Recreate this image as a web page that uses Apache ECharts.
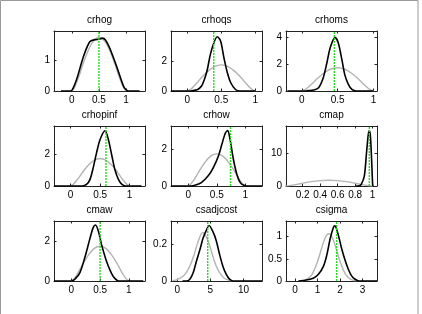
<!DOCTYPE html>
<html><head><meta charset="utf-8">
<script src="https://cdn.jsdelivr.net/npm/echarts@6/dist/echarts.min.js"></script>
<style>html,body{margin:0;padding:0;background:#fff}#c{width:422px;height:314px}</style>
</head><body><div id="c"></div>
<script>
// ---- data ----
const titles = ['crhog','crhoqs','crhoms','crhopinf','crhow','cmap','cmaw','csadjcost','csigma'];
const xMins = [-0.33, -0.24, -0.22, -0.28, -0.30, 0.01, -0.30, -0.95, -0.40];
const xMaxs = [1.35, 1.10, 1.05, 1.26, 1.29, 1.05, 1.28, 12.8, 3.64];
const yMaxs = [1.95, 4.0, 4.5, 3.8, 3.25, 18.2, 3.0, 0.33, 1.35];
const xTicks = [[0,0.5,1],[0,0.5,1],[0,0.5,1],[0,0.5,1],[0,0.5,1],[0.2,0.4,0.6,0.8,1],[0,0.5,1],[0,5,10],[0,1,2,3]];
const yTicks = [[0,1],[0,2],[0,2,4],[0,2],[0,2],[0,10],[0,2],[0,0.2],[0,0.5,1]];
const modes = [0.5, 0.39, 0.455, 0.6, 0.74, 0.962, 0.5, 4.6, 1.85];

// prior of the rho-type parameters (gray)
const rhoPriorX = [0, 0.05, 0.1, 0.15, 0.2, 0.3, 0.4, 0.5, 0.6, 0.7, 0.8, 0.85, 0.9, 0.95, 1];
const rhoPriorY = [0, 0.12, 0.33, 0.58, 0.85, 1.31, 1.63, 1.74, 1.63, 1.31, 0.85, 0.58, 0.33, 0.12, 0];
const csadjcostPriorX = [-0.7, 0.0, 1.0, 1.5, 2.0, 2.5, 3.0, 3.5, 3.8, 4.1, 4.6, 5.1, 5.6, 6.1, 6.6, 7.1, 7.8, 8.3];
const csadjcostPriorY = [0.002, 0.007, 0.03, 0.055, 0.09, 0.14, 0.2, 0.25, 0.266, 0.26, 0.225, 0.17, 0.11, 0.065, 0.035, 0.015, 0.004, 0.001];
const csigmaPriorX = [0.25, 0.5, 0.75, 1.0, 1.25, 1.4, 1.5, 1.6, 1.75, 2.0, 2.25, 2.5, 2.75];
const csigmaPriorY = [0.004, 0.03, 0.144, 0.437, 0.852, 1.03, 1.064, 1.03, 0.852, 0.437, 0.144, 0.03, 0.004];

// posteriors (black)
const crhogX = [-0.2, -0.05, 0, 0.09, 0.21, 0.33, 0.43, 0.5, 0.56, 0.62, 0.7, 0.83, 0.95, 1.0, 1.05, 1.25];
const crhogY = [0, 0, 0.02, 0.39, 1.1, 1.6, 1.67, 1.68, 1.72, 1.66, 1.39, 0.78, 0.17, 0.04, 0, 0];
const crhoqsX = [-0.24, 0.05, 0.11, 0.16, 0.21, 0.25, 0.29, 0.34, 0.39, 0.44, 0.49, 0.54, 0.59, 0.64, 0.71, 0.77, 1.0];
const crhoqsY = [0, 0, 0.05, 0.12, 0.33, 0.75, 1.33, 2.44, 3.2, 3.62, 3.33, 2.2, 1.22, 0.55, 0.1, 0, 0];
const crhomsX = [-0.2, 0.05, 0.09, 0.17, 0.235, 0.30, 0.35, 0.40, 0.465, 0.51, 0.56, 0.60, 0.65, 0.70, 0.76, 1.0];
const crhomsY = [0, 0, 0.03, 0.08, 0.25, 1.0, 2.1, 3.3, 4.0, 3.6, 2.35, 1.23, 0.5, 0.12, 0, 0];
const crhopinfX = [-0.28, 0.2, 0.27, 0.33, 0.39, 0.44, 0.5, 0.585, 0.64, 0.70, 0.75, 0.81, 0.87, 0.93, 1.2];
const crhopinfY = [0, 0, 0.1, 0.42, 1.26, 2.1, 2.95, 3.5, 2.95, 1.9, 1.05, 0.42, 0.1, 0, 0];
const crhowX = [-0.3, 0.05, 0.12, 0.23, 0.35, 0.44, 0.53, 0.59, 0.65, 0.69, 0.73, 0.79, 0.85, 0.91, 0.97, 1.03, 1.29];
const crhowY = [0, 0, 0.04, 0.18, 0.55, 1.0, 1.64, 2.27, 2.87, 3.0, 2.55, 1.45, 0.64, 0.18, 0.04, 0, 0];
const cmapX = [0.81, 0.85, 0.87, 0.905, 0.93, 0.95, 0.963, 0.975, 0.99, 1.0, 1.005];
const cmapY = [0, 0.1, 0.5, 3, 10, 15.5, 16.8, 15, 7, 0.5, 0];
const cmawX = [-0.3, 0.0, 0.06, 0.15, 0.235, 0.32, 0.38, 0.42, 0.47, 0.525, 0.61, 0.70, 0.76, 0.82, 1.0, 1.25];
const cmawY = [0, 0, 0.08, 0.42, 1.17, 2.08, 2.67, 2.8, 2.5, 1.83, 1.0, 0.37, 0.12, 0, 0, 0];
const csadjcostX = [0.8, 1.4, 1.9, 2.4, 2.9, 3.4, 3.9, 4.4, 4.8, 5.4, 5.9, 6.4, 6.9, 7.4, 7.9, 8.4, 12.8];
const csadjcostY = [0, 0, 0.01, 0.045, 0.11, 0.17, 0.236, 0.28, 0.305, 0.27, 0.22, 0.145, 0.08, 0.036, 0.01, 0, 0];
const csigmaX = [0.15, 0.37, 0.81, 1.04, 1.26, 1.41, 1.56, 1.70, 1.77, 1.93, 2.07, 2.22, 2.37, 2.52, 2.67, 2.85, 3.64];
const csigmaY = [0, 0.01, 0.06, 0.15, 0.33, 0.58, 0.95, 1.2, 1.24, 1.02, 0.73, 0.47, 0.26, 0.11, 0.04, 0, 0];

const priorXs = [rhoPriorX, rhoPriorX, rhoPriorX, rhoPriorX, rhoPriorX, rhoPriorX, rhoPriorX, csadjcostPriorX, csigmaPriorX];
const priorYs = [rhoPriorY, rhoPriorY, rhoPriorY, rhoPriorY, rhoPriorY, rhoPriorY, rhoPriorY, csadjcostPriorY, csigmaPriorY];
const postXs = [crhogX, crhoqsX, crhomsX, crhopinfX, crhowX, cmapX, cmawX, csadjcostX, csigmaX];
const postYs = [crhogY, crhoqsY, crhomsY, crhopinfY, crhowY, cmapY, cmawY, csadjcostY, csigmaY];

// ---- layout ----
const colLeft = [54, 171, 286];
const rowTop = [31, 126, 221];
const pw = 91, ph = 60;
const FONT = '"Liberation Sans", Arial, Helvetica, sans-serif';
const zip = (a, b) => a.map((v, i) => [v, b[i]]);

const grid = [], xAxis = [], yAxis = [], series = [], graphic = [];
for (let k = 0; k < 9; k++) {
  const r = Math.floor(k / 3), c = k % 3;
  const L = colLeft[c], T = rowTop[r];
  grid.push({left: L, top: T, width: pw, height: ph, show: false});
  const axLine = {show: true, onZero: false, lineStyle: {color: '#222', width: 1}};
  const xa = (pos, labels) => ({
    type: 'value', gridIndex: k, position: pos, min: xMins[k], max: xMaxs[k],
    axisLine: axLine, splitLine: {show: false},
    axisTick: {show: true, inside: true, length: 2.5, customValues: xTicks[k], lineStyle: {color: '#222'}},
    axisLabel: {show: labels, customValues: xTicks[k], fontSize: 10, fontFamily: FONT, color: '#000', margin: 4}
  });
  const ya = (pos, labels) => ({
    type: 'value', gridIndex: k, position: pos, min: 0, max: yMaxs[k],
    axisLine: axLine, splitLine: {show: false},
    axisTick: {show: true, inside: true, length: 2.5, customValues: yTicks[k], lineStyle: {color: '#222'}},
    axisLabel: {show: labels, customValues: yTicks[k], fontSize: 10, fontFamily: FONT, color: '#000', margin: 4}
  });
  xAxis.push(xa('bottom', true)); xAxis.push(xa('top', false));
  yAxis.push(ya('left', true)); yAxis.push(ya('right', false));
  const xi = 2 * k, yi = 2 * k;
  series.push({type: 'line', xAxisIndex: xi, yAxisIndex: yi, data: zip(priorXs[k], priorYs[k]), showSymbol: false,
    smooth: 0.3, lineStyle: {color: '#b3b3b3', width: 1.4}, silent: true, animation: false, clip: true});
  series.push({type: 'line', xAxisIndex: xi, yAxisIndex: yi, data: zip(postXs[k], postYs[k]), showSymbol: false,
    smooth: 0.3, lineStyle: {color: '#000', width: 1.6}, silent: true, animation: false, clip: true});
  series.push({type: 'line', xAxisIndex: xi, yAxisIndex: yi, data: [[modes[k], 0], [modes[k], yMaxs[k]]], showSymbol: false,
    lineStyle: {color: '#22dd22', width: 1.4, type: [2, 1]}, silent: true, animation: false});
  graphic.push({type: 'text', x: L + pw / 2, y: T - 11, style: {text: titles[k], fill: '#000', font: '10px ' + FONT, textAlign: 'center', textVerticalAlign: 'middle'}});
}
graphic.push({type: 'rect', shape: {x: 0.5, y: 0.5, width: 417.5, height: 330}, style: {fill: null, stroke: '#999', lineWidth: 1}, silent: true});

const chart = echarts.init(document.getElementById('c'), null, {renderer: 'canvas'});
chart.setOption({animation: false, backgroundColor: '#fff', grid, xAxis, yAxis, series, graphic});
</script>
</body></html>
